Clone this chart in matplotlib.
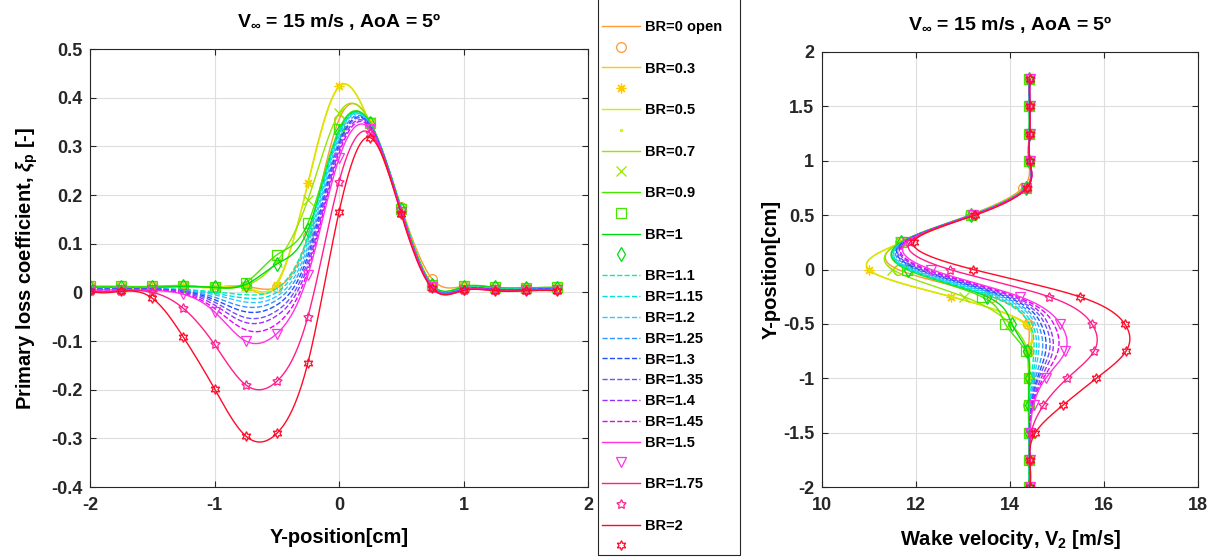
import numpy as np
import matplotlib
matplotlib.use("Agg")
import matplotlib.pyplot as plt
from matplotlib.lines import Line2D
from matplotlib.patches import Rectangle

plt.rcParams['font.family'] = ['Liberation Sans', 'DejaVu Sans']
plt.rcParams['font.weight'] = 'bold'
plt.rcParams['axes.unicode_minus'] = False
plt.rcParams['mathtext.fontset'] = 'custom'
plt.rcParams['mathtext.rm'] = 'Liberation Sans:bold'
plt.rcParams['mathtext.bf'] = 'Liberation Sans:bold'
plt.rcParams['mathtext.it'] = 'Liberation Sans:italic'

# measurement positions (cm)
ypos = [-2, -1.75, -1.5, -1.25, -1, -0.75, -0.5, -0.25, 0, 0.25, 0.5, 0.75, 1, 1.25, 1.5, 1.75]

labels = ['BR=0 open', 'BR=0.3', 'BR=0.5', 'BR=0.7', 'BR=0.9', 'BR=1',
          'BR=1.1', 'BR=1.15', 'BR=1.2', 'BR=1.25', 'BR=1.3', 'BR=1.35', 'BR=1.4', 'BR=1.45',
          'BR=1.5', 'BR=1.75', 'BR=2']

colors = ['#FF9933', '#FFC800', '#D2EB00', '#96E600', '#46E600', '#00DC14',
          '#00F0B4', '#00E0E0', '#32C8FF', '#3296FF', '#1E50FF', '#6E50FF', '#9632FF', '#E600FF',
          '#FF32E6', '#FF1E8C', '#FF0A28']

markers = ['o', (8, 2, 0), '.', 'x', 's', 'd',
           None, None, None, None, None, None, None, None,
           'v', (5, 1, 0), (6, 1, 0)]

# primary loss coefficient xi_p at each position
xi = [
    [0.012, 0.012, 0.012, 0.014, 0.010, 0.012, 0.010, 0.115, 0.355, 0.350, 0.175, 0.027, 0.012, 0.010, 0.009, 0.010],
    [0.010, 0.010, 0.010, 0.012, 0.010, 0.010, 0.015, 0.225, 0.423, 0.345, 0.170, 0.015, 0.010, 0.008, 0.008, 0.008],
    [0.010, 0.010, 0.010, 0.012, 0.010, 0.011, 0.020, 0.222, 0.422, 0.346, 0.170, 0.015, 0.010, 0.008, 0.008, 0.008],
    [0.010, 0.010, 0.010, 0.012, 0.010, 0.014, 0.063, 0.190, 0.368, 0.350, 0.172, 0.015, 0.010, 0.008, 0.008, 0.008],
    [0.012, 0.012, 0.012, 0.013, 0.010, 0.020, 0.077, 0.142, 0.335, 0.348, 0.172, 0.015, 0.012, 0.010, 0.009, 0.010],
    [0.010, 0.010, 0.010, 0.012, 0.010, 0.016, 0.058, 0.128, 0.330, 0.348, 0.172, 0.015, 0.011, 0.010, 0.009, 0.009],
    [0.008, 0.008, 0.008, 0.006, 0.001, -0.005, 0.008, 0.115, 0.330, 0.345, 0.170, 0.013, 0.008, 0.007, 0.007, 0.007],
    [0.008, 0.008, 0.008, 0.005, -0.002, -0.012, 0.000, 0.105, 0.325, 0.345, 0.170, 0.013, 0.008, 0.007, 0.007, 0.007],
    [0.008, 0.008, 0.008, 0.004, -0.005, -0.020, -0.008, 0.095, 0.320, 0.345, 0.168, 0.012, 0.008, 0.007, 0.007, 0.007],
    [0.007, 0.007, 0.007, 0.003, -0.010, -0.030, -0.016, 0.085, 0.312, 0.344, 0.168, 0.012, 0.007, 0.006, 0.006, 0.006],
    [0.007, 0.007, 0.007, 0.002, -0.015, -0.040, -0.026, 0.075, 0.305, 0.343, 0.167, 0.011, 0.007, 0.006, 0.006, 0.006],
    [0.006, 0.006, 0.006, 0.001, -0.020, -0.052, -0.038, 0.065, 0.300, 0.342, 0.166, 0.011, 0.006, 0.005, 0.005, 0.005],
    [0.006, 0.006, 0.006, 0.000, -0.026, -0.062, -0.048, 0.055, 0.292, 0.340, 0.166, 0.010, 0.006, 0.005, 0.005, 0.005],
    [0.005, 0.005, 0.005, -0.002, -0.033, -0.077, -0.065, 0.045, 0.285, 0.338, 0.165, 0.010, 0.005, 0.005, 0.005, 0.005],
    [0.005, 0.005, 0.004, -0.004, -0.040, -0.100, -0.085, 0.035, 0.275, 0.335, 0.165, 0.010, 0.005, 0.004, 0.004, 0.004],
    [0.003, 0.003, 0.000, -0.033, -0.107, -0.190, -0.183, -0.050, 0.227, 0.327, 0.163, 0.008, 0.004, 0.004, 0.004, 0.004],
    [0.003, 0.002, -0.012, -0.092, -0.198, -0.295, -0.290, -0.145, 0.165, 0.318, 0.160, 0.008, 0.004, 0.003, 0.003, 0.003],
]

# wake velocity V2 (m/s) at each position
v2 = [
    [14.40, 14.40, 14.40, 14.39, 14.40, 14.39, 14.38, 13.61, 11.62, 11.67, 13.14, 14.27, 14.40, 14.41, 14.41, 14.41],
    [14.41, 14.41, 14.41, 14.40, 14.41, 14.41, 14.36, 12.74, 10.99, 11.71, 13.18, 14.33, 14.41, 14.41, 14.41, 14.41],
    [14.41, 14.41, 14.41, 14.40, 14.41, 14.40, 14.32, 12.76, 11.00, 11.70, 13.18, 14.33, 14.41, 14.41, 14.41, 14.41],
    [14.41, 14.41, 14.41, 14.40, 14.41, 14.38, 14.01, 13.02, 11.50, 11.67, 13.17, 14.33, 14.41, 14.41, 14.41, 14.41],
    [14.40, 14.40, 14.40, 14.40, 14.40, 14.33, 13.90, 13.40, 11.80, 11.68, 13.17, 14.33, 14.40, 14.41, 14.41, 14.41],
    [14.41, 14.41, 14.41, 14.40, 14.41, 14.36, 14.04, 13.51, 11.84, 11.68, 13.17, 14.33, 14.41, 14.41, 14.41, 14.41],
    [14.41, 14.41, 14.41, 14.43, 14.46, 14.51, 14.41, 13.61, 11.84, 11.71, 13.18, 14.34, 14.41, 14.41, 14.41, 14.41],
    [14.41, 14.41, 14.41, 14.43, 14.48, 14.56, 14.47, 13.69, 11.89, 11.71, 13.18, 14.34, 14.41, 14.41, 14.41, 14.41],
    [14.41, 14.41, 14.41, 14.44, 14.51, 14.61, 14.53, 13.77, 11.93, 11.71, 13.20, 14.34, 14.41, 14.41, 14.41, 14.41],
    [14.42, 14.42, 14.42, 14.45, 14.54, 14.69, 14.59, 13.84, 12.00, 11.72, 13.20, 14.34, 14.42, 14.42, 14.42, 14.42],
    [14.42, 14.42, 14.42, 14.46, 14.58, 14.76, 14.66, 13.92, 12.06, 11.73, 13.21, 14.35, 14.42, 14.42, 14.42, 14.42],
    [14.42, 14.42, 14.42, 14.46, 14.61, 14.84, 14.74, 13.99, 12.11, 11.74, 13.21, 14.35, 14.42, 14.42, 14.42, 14.42],
    [14.42, 14.42, 14.42, 14.47, 14.66, 14.91, 14.81, 14.07, 12.18, 11.76, 13.21, 14.35, 14.42, 14.42, 14.42, 14.42],
    [14.42, 14.42, 14.42, 14.48, 14.71, 15.02, 14.93, 14.14, 12.24, 11.77, 13.22, 14.35, 14.42, 14.42, 14.42, 14.42],
    [14.42, 14.42, 14.43, 14.50, 14.76, 15.18, 15.07, 14.21, 12.32, 11.80, 13.22, 14.35, 14.42, 14.42, 14.42, 14.42],
    [14.42, 14.42, 14.45, 14.71, 15.22, 15.79, 15.74, 14.83, 12.72, 11.87, 13.24, 14.36, 14.42, 14.42, 14.42, 14.42],
    [14.42, 14.42, 14.54, 15.12, 15.84, 16.47, 16.44, 15.48, 13.22, 11.95, 13.26, 14.36, 14.42, 14.42, 14.42, 14.42],
]


def spline(xk, yk, xs):
    # not-a-knot cubic spline
    xk = np.asarray(xk, float)
    yk = np.asarray(yk, float)
    n = len(xk)
    h = np.diff(xk)
    A = np.zeros((n, n))
    b = np.zeros(n)
    A[0, 0], A[0, 1], A[0, 2] = h[1], -(h[0] + h[1]), h[0]
    A[-1, -3], A[-1, -2], A[-1, -1] = h[-1], -(h[-2] + h[-1]), h[-2]
    for i in range(1, n - 1):
        A[i, i - 1] = h[i - 1]
        A[i, i] = 2 * (h[i - 1] + h[i])
        A[i, i + 1] = h[i]
        b[i] = 6 * ((yk[i + 1] - yk[i]) / h[i] - (yk[i] - yk[i - 1]) / h[i - 1])
    M = np.linalg.solve(A, b)
    k = np.clip(np.searchsorted(xk, xs) - 1, 0, n - 2)
    hk = h[k]
    a = xk[k + 1] - xs
    c = xs - xk[k]
    return (M[k] * a ** 3 / (6 * hk) + M[k + 1] * c ** 3 / (6 * hk)
            + (yk[k] / hk - M[k] * hk / 6) * a + (yk[k + 1] / hk - M[k + 1] * hk / 6) * c)


W, H = 1220, 557
fig = plt.figure(figsize=(W / 100, H / 100), dpi=100)
ax1 = fig.add_axes([90 / W, 1 - 487 / H, 498 / W, 438 / H])
ax2 = fig.add_axes([822 / W, 1 - 487 / H, 376 / W, 435 / H])

yfine = np.linspace(ypos[0], ypos[-1], 400)
title = r'V$_{\infty}$ = 15 m/s , AoA = 5º'

for i in range(len(labels)):
    ls = '--' if markers[i] is None else '-'
    ax1.plot(yfine, spline(ypos, xi[i], yfine), ls, color=colors[i], lw=1.0)
    ax2.plot(spline(ypos, v2[i], yfine), yfine, ls, color=colors[i], lw=1.0)
    if markers[i] is not None:
        ms = 3 if markers[i] == '.' else 7
        ax1.plot(ypos, xi[i], linestyle='none', marker=markers[i], color=colors[i],
                 mfc='none', ms=ms, mew=0.9)
        ax2.plot(v2[i], ypos, linestyle='none', marker=markers[i], color=colors[i],
                 mfc='none', ms=ms, mew=0.9)

for ax in (ax1, ax2):
    ax.grid(True, color='#DEDEDE', lw=0.8)
    ax.set_axisbelow(True)
    ax.tick_params(direction='in', top=True, right=True, length=4, width=0.8,
                   labelsize=13, colors='#262626')
    ax.tick_params(axis='y', pad=5.5)
    ax.tick_params(axis='x', pad=7)
    for s in ax.spines.values():
        s.set_color('#262626')
        s.set_linewidth(0.8)
    ax.set_title(title, fontsize=14, fontweight='bold', pad=16)

ax1.set_xlim(-2, 2)
ax1.set_ylim(-0.4, 0.5)
ax1.set_xticks([-2, -1, 0, 1, 2])
ax1.set_yticks(np.round(np.arange(-0.4, 0.51, 0.1), 1))
ax1.set_yticklabels(['-0.4', '-0.3', '-0.2', '-0.1', '0', '0.1', '0.2', '0.3', '0.4', '0.5'])
ax1.set_xlabel('Y-position[cm]', fontsize=14.5, fontweight='bold', labelpad=10)
ax1.set_ylabel(r'Primary loss coefficient, $\it{\xi}_{\rm p}$ [-]', fontsize=14.5,
               fontweight='bold', labelpad=8)

ax2.set_xlim(10, 18)
ax2.set_ylim(-2, 2)
ax2.set_xticks([10, 12, 14, 16, 18])
ax2.set_yticks([-2, -1.5, -1, -0.5, 0, 0.5, 1, 1.5, 2])
ax2.set_yticklabels(['-2', '-1.5', '-1', '-0.5', '0', '0.5', '1', '1.5', '2'])
ax2.set_xlabel(r'Wake velocity, V$_2$ [m/s]', fontsize=14.5, fontweight='bold', labelpad=10)
ax2.set_ylabel('Y-position[cm]', fontsize=14.5, fontweight='bold', labelpad=2)

# legend: line entry followed by marker entry
handles, names = [], []
for i in range(len(labels)):
    ls = '--' if markers[i] is None else '-'
    handles.append(Line2D([], [], color=colors[i], lw=1.0, linestyle=ls))
    names.append(labels[i])
    if markers[i] is not None:
        ms = 3 if markers[i] == '.' else 7
        handles.append(Line2D([], [], color=colors[i], linestyle='none', marker=markers[i],
                              mfc='none', ms=ms, mew=0.9))
        names.append(' ')

fig.legend(handles, names, loc='upper left', bbox_to_anchor=(602 / W, 1 - 20 / H),
           frameon=False, prop={'weight': 'bold', 'size': 10.5},
           handlelength=2.6, handletextpad=0.35, borderpad=0, borderaxespad=0,
           labelspacing=0.465, numpoints=1)
fig.patches.append(Rectangle((598 / W, 2 / H), 142 / W, 1.0, transform=fig.transFigure,
                             fill=False, edgecolor='#262626', lw=0.8))

fig.savefig('out.png', dpi=100)
